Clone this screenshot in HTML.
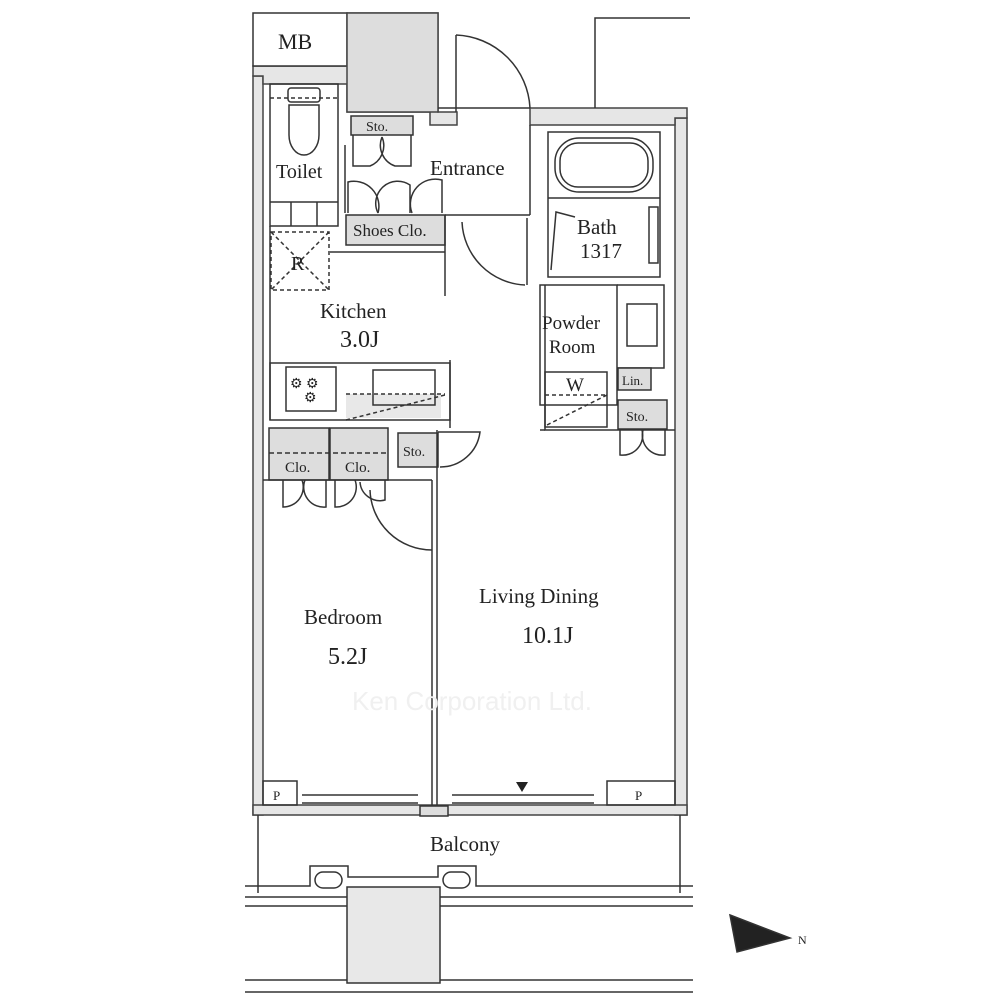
<!DOCTYPE html>
<html><head><meta charset="utf-8"><style>
html,body{margin:0;padding:0;background:#fff}
svg{display:block}
text{font-family:"Liberation Serif",serif;fill:#222}
</style></head><body>
<svg width="1000" height="1000" viewBox="0 0 1000 1000" stroke="#333" stroke-width="1.5" fill="none">
<g fill="#e6e6e6" stroke="#444">
<rect x="253" y="76" width="10" height="739"/>
<rect x="675" y="118" width="12" height="697"/>
<rect x="253" y="805" width="434" height="10"/>
<path d="M253 66 H347 V13 H438 V112 H457 V125 H430 V112 H347 V84 H263 V76 H253 Z"/>
<path d="M530 112 H530 V125 H675 V118 H687 V108 H530 Z"/>
</g>
<rect x="253" y="13" width="94" height="53" fill="#fff"/>
<text x="278" y="49" font-size="22" stroke="none">MB</text>
<rect x="347" y="13" width="91" height="99" fill="#ddd" stroke="#444"/>
<path d="M595 108 V18 H690"/>
<path d="M438 108 H530"/>
<path d="M456 112 V35"/><path d="M456 35 A77 77 0 0 1 530 108"/>
<rect x="270" y="84" width="68" height="142"/>
<line x1="270" y1="98" x2="338" y2="98" stroke-dasharray="4 3"/>
<rect x="288" y="88" width="32" height="14" rx="3"/>
<path d="M289 105 V135 A15 20 0 0 0 319 135 V105 Z"/>
<line x1="270" y1="202" x2="338" y2="202"/><line x1="291" y1="202" x2="291" y2="226"/><line x1="317" y1="202" x2="317" y2="226"/>
<text x="276" y="178" font-size="20" stroke="none">Toilet</text>
<rect x="351" y="116" width="62" height="19" fill="#ddd"/>
<text x="366" y="131" font-size="14" stroke="none">Sto.</text>
<path d="M353 135 V166 H370 A22 22 0 0 0 382 137"/><path d="M411 135 V166 H395 A22 22 0 0 1 382 137"/>
<path d="M345 145 V213"/>
<rect x="346" y="215" width="99" height="30" fill="#ddd"/>
<text x="353" y="236" font-size="17" stroke="none">Shoes Clo.</text>
<path d="M348 213 V182 A25 25 0 0 1 378 213"/><path d="M378 213 A22 22 0 0 1 410 185 V213"/><path d="M412 213 A25 25 0 0 1 442 180 V213"/>
<text x="430" y="175" font-size="21" stroke="none">Entrance</text>
<path d="M445 215 H530"/><path d="M445 215 V296"/>
<path d="M462 222 A66 66 0 0 0 525 285"/><path d="M527 218 V285"/>
<path d="M530 125 V215"/>
<rect x="548" y="132" width="112" height="145"/>
<line x1="548" y1="198" x2="660" y2="198"/>
<rect x="555" y="138" width="98" height="54" rx="24"/>
<rect x="560" y="143" width="88" height="44" rx="18"/>
<rect x="649" y="207" width="9" height="56"/>
<path d="M551 270 L556 212 L575 217"/>
<text x="577" y="234" font-size="21" stroke="none">Bath</text>
<text x="580" y="258" font-size="21" stroke="none">1317</text>
<path d="M540 285 H617 V405 H540 Z"/>
<path d="M545 285 V430 H675"/>
<path d="M617 285 H664 V368 H617"/>
<rect x="627" y="304" width="30" height="42"/>
<rect x="618" y="368" width="33" height="22" fill="#ddd"/>
<text x="622" y="385" font-size="13" stroke="none">Lin.</text>
<rect x="545" y="372" width="62" height="55"/>
<path d="M545 395 H607" stroke-dasharray="4 3"/><path d="M547 425 L607 395" stroke-dasharray="4 3"/>
<text x="566" y="391" font-size="19" stroke="none">W</text>
<text x="542" y="329" font-size="19" stroke="none">Powder</text>
<text x="549" y="353" font-size="19" stroke="none">Room</text>
<rect x="618" y="400" width="49" height="29" fill="#ddd"/>
<text x="626" y="421" font-size="14" stroke="none">Sto.</text>
<path d="M620 429 V455 A20 20 0 0 0 642 430"/><path d="M665 429 V455 A20 20 0 0 1 643 430"/>
<path d="M270 226 V420"/>
<rect x="271" y="232" width="58" height="58" stroke-dasharray="4 3"/>
<path d="M271 232 L329 290 M329 232 L271 290" stroke-dasharray="4 3"/>
<text x="291" y="270" font-size="20" stroke="none">R</text>
<path d="M330 252 H445"/>
<text x="320" y="318" font-size="21" stroke="none">Kitchen</text>
<text x="340" y="347" font-size="24" stroke="none">3.0J</text>
<rect x="270" y="363" width="180" height="57"/>
<rect x="286" y="367" width="50" height="44"/>
<text x="290" y="388" font-size="14" stroke="none">⚙ ⚙</text><text x="304" y="402" font-size="14" stroke="none">⚙</text>
<rect x="346" y="394" width="95" height="24" fill="#e8e8e8" stroke="none"/>
<rect x="373" y="370" width="62" height="35"/>
<path d="M346 420 L445 395 M346 394 H445" stroke-dasharray="4 3"/>
<path d="M450 360 V428"/>
<rect x="269" y="428" width="60" height="52" fill="#ddd"/>
<rect x="330" y="428" width="58" height="52" fill="#ddd"/>
<path d="M269 453 H388" stroke-dasharray="5 3"/>
<text x="285" y="472" font-size="15" stroke="none">Clo.</text>
<text x="345" y="472" font-size="15" stroke="none">Clo.</text>
<path d="M283 480 V507 A20 20 0 0 0 302 480"/><path d="M326 480 V507 A20 20 0 0 1 305 480"/>
<path d="M335 480 V507 A20 20 0 0 0 355 480"/><path d="M385 480 V500 A20 20 0 0 1 360 482"/>
<rect x="398" y="433" width="40" height="34" fill="#ddd"/>
<text x="403" y="456" font-size="14" stroke="none">Sto.</text>
<path d="M438 432 H480 A40 40 0 0 1 440 467"/>
<path d="M263 480 H432"/>
<path d="M370 490 A62 62 0 0 0 432 550"/>
<path d="M432 480 V805 M437 480 V805"/>
<path d="M437 480 V430 M540 430 H545"/>
<text x="304" y="624" font-size="21" stroke="none">Bedroom</text>
<text x="328" y="664" font-size="24" stroke="none">5.2J</text>
<text x="479" y="603" font-size="21" stroke="none">Living Dining</text>
<text x="522" y="643" font-size="24" stroke="none">10.1J</text>
<text x="352" y="710" font-size="26" stroke="none" style="font-family:'Liberation Sans',sans-serif;fill:#f0f0f0">Ken Corporation Ltd.</text>
<rect x="263" y="781" width="34" height="24"/><text x="273" y="800" font-size="13" stroke="none">P</text>
<rect x="607" y="781" width="68" height="24"/><text x="635" y="800" font-size="13" stroke="none">P</text>
<path d="M302 795 H418 M302 803 H418 M452 795 H594 M452 803 H594"/>
<rect x="420" y="806" width="28" height="10" fill="#ddd"/>
<polygon points="516,782 528,782 522,792" fill="#222" stroke="none"/>
<path d="M258 815 V893 M680 815 V893"/>
<text x="430" y="851" font-size="21" stroke="none">Balcony</text>
<path d="M245 886 H310 V866 H348 V877 H438 V866 H476 V886 H693"/>
<rect x="315" y="872" width="27" height="16" rx="8"/><rect x="443" y="872" width="27" height="16" rx="8"/>
<path d="M245 897 H693 M245 906 H693 M245 980 H693 M245 992 H693"/>
<rect x="347" y="887" width="93" height="96" fill="#e8e8e8"/>
<path d="M730 915 L790 938 L737 952 Z" fill="#222"/>
<text x="798" y="944" font-size="12" stroke="none">N</text>
</svg>
</body></html>
